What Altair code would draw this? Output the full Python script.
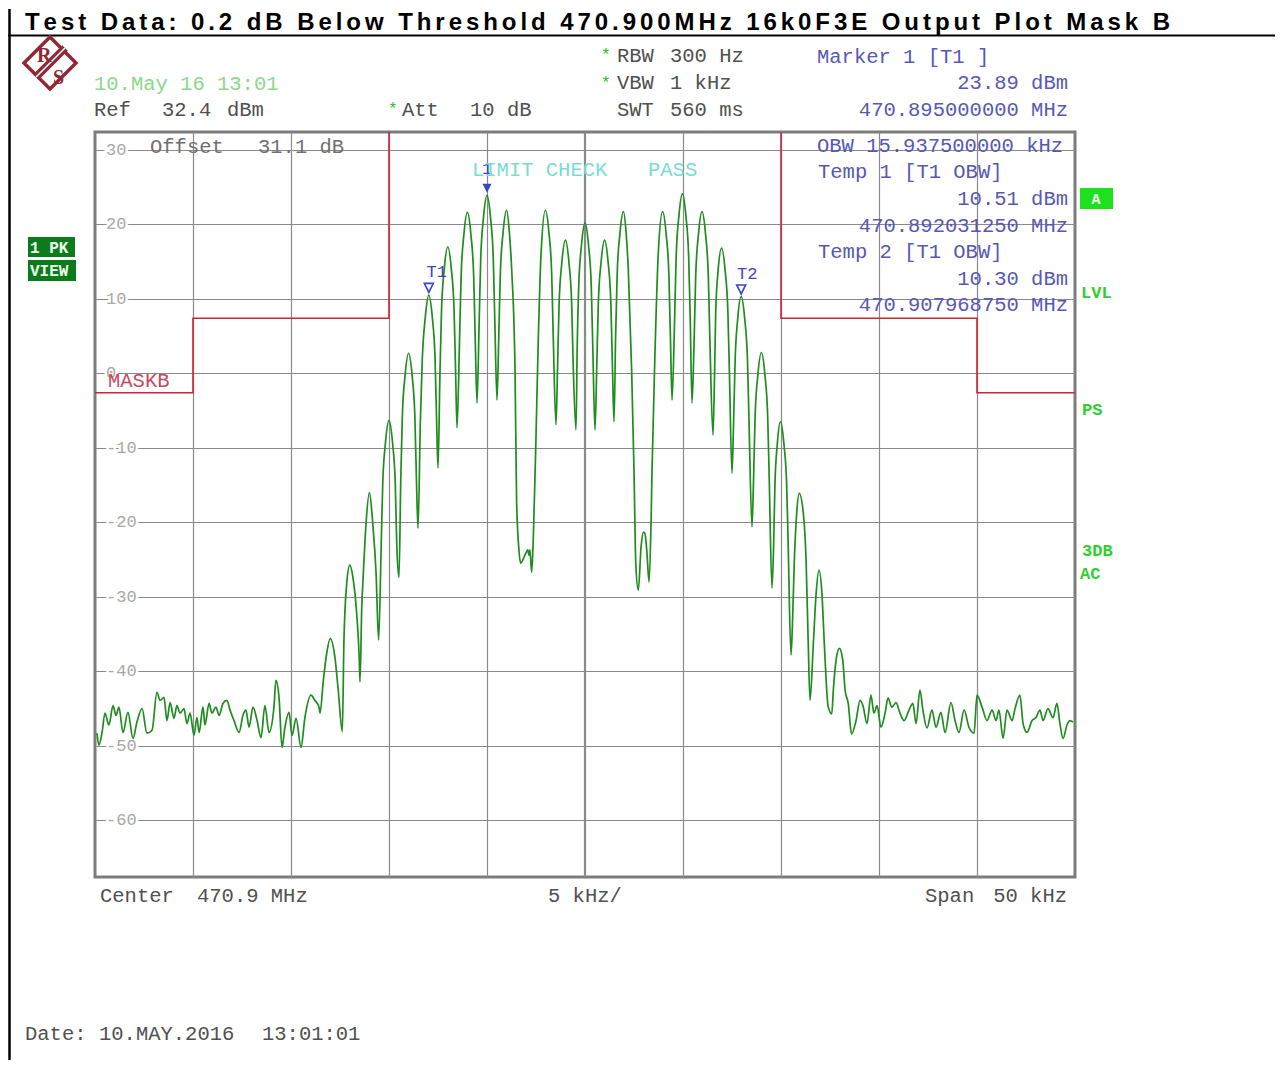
import altair as alt
import pandas as pd

# ---------------- data ----------------
TITLE = "Test Data: 0.2 dB Below Threshold 470.900MHz 16k0F3E Output Plot Mask B"

# frequency offset from 470.9 MHz (kHz), level (dBm)
LEFT_FLOOR = [
    (-24.90, -48.3), (-24.80, -49.9), (-24.64, -48.2), (-24.49, -45.6), (-24.29, -47.2),
    (-24.08, -44.6), (-23.93, -45.9), (-23.78, -44.8), (-23.57, -48.2), (-23.32, -45.5),
    (-23.06, -49.0), (-22.86, -46.8), (-22.60, -45.0), (-22.35, -48.3), (-22.09, -47.9),
    (-21.84, -42.8), (-21.68, -43.9), (-21.48, -43.5), (-21.33, -46.6), (-21.17, -44.2),
    (-20.97, -46.3), (-20.82, -44.6), (-20.66, -45.6), (-20.46, -45.0), (-20.31, -47.0),
    (-20.15, -45.6), (-19.95, -48.6), (-19.80, -46.2), (-19.69, -48.2), (-19.49, -44.8),
    (-19.39, -47.2), (-19.18, -44.3), (-19.03, -45.6), (-18.83, -44.8), (-18.67, -45.9),
    (-18.47, -44.3), (-18.27, -43.9), (-18.11, -45.2), (-17.91, -46.6), (-17.65, -48.2),
    (-17.45, -45.9), (-17.30, -45.2), (-17.14, -47.5), (-16.94, -44.8), (-16.73, -46.6),
    (-16.53, -48.9), (-16.33, -44.6), (-16.12, -48.2), (-15.87, -44.8), (-15.77, -41.2),
    (-15.61, -43.5), (-15.46, -50.2), (-15.31, -47.5), (-15.10, -45.5), (-14.95, -48.6),
    (-14.74, -46.3), (-14.49, -50.2), (-14.29, -46.2), (-13.98, -43.2), (-13.78, -43.9),
    (-13.57, -44.8),
]

SIGNAL = [
    # -13 kHz
    (-13.52, -45.6), (-13.35, -41.2), (-13.18, -37.6), (-13.00, -35.6), (-12.76, -38.1),
    (-12.59, -42.5), (-12.38, -48.1),
    # -12
    (-12.30, -36.0), (-12.16, -28.3), (-12.00, -25.75), (-11.82, -27.8), (-11.65, -32.2),
    (-11.52, -38.1), (-11.48, -41.4),
    # -11
    (-11.39, -31.4), (-11.31, -26.9), (-11.17, -20.1), (-11.00, -16.0), (-10.83, -20.1),
    (-10.66, -26.8), (-10.53, -35.8),
    # -10
    (-10.40, -23.3), (-10.32, -14.8), (-10.18, -9.3), (-10.00, -6.3), (-9.82, -9.3),
    (-9.68, -14.8), (-9.60, -23.3), (-9.49, -27.4),
    # -9
    (-9.40, -14.3), (-9.32, -5.8), (-9.18, -0.3), (-9.00, 2.7), (-8.82, -0.3),
    (-8.68, -5.8), (-8.60, -14.3), (-8.52, -20.8),
    # -8 (T1)
    (-8.40, -6.5), (-8.30, 2.0), (-8.15, 7.5), (-7.97, 10.5), (-7.79, 7.5),
    (-7.65, 2.0), (-7.57, -6.5), (-7.50, -12.7),
    # -7
    (-7.40, 0.0), (-7.32, 8.5), (-7.18, 14.0), (-7.00, 17.0), (-6.82, 14.0),
    (-6.68, 8.5), (-6.60, 0.0), (-6.53, -7.3),
    # -6
    (-6.40, 4.6), (-6.32, 13.1), (-6.18, 18.6), (-6.00, 21.6), (-5.82, 18.6),
    (-5.68, 13.1), (-5.60, 4.6), (-5.51, -4.0),
    # -5 (marker 1)
    (-5.40, 6.9), (-5.32, 15.4), (-5.18, 20.9), (-5.00, 23.9), (-4.82, 20.9),
    (-4.68, 15.4), (-4.60, 6.9), (-4.49, -3.6),
    # -4
    (-4.40, 4.9), (-4.32, 13.4), (-4.18, 18.9), (-4.00, 21.9), (-3.86, 19.0),
    (-3.74, 13.9), (-3.57, 0.4), (-3.49, -17.0),
    # carrier null near -3
    (-3.37, -23.7), (-3.28, -25.5), (-3.15, -24.9), (-3.03, -24.2), (-2.92, -23.7),
    (-2.86, -24.4), (-2.81, -23.7), (-2.72, -26.7), (-2.63, -21.5), (-2.50, -8.5),
    (-2.38, 4.9), (-2.24, 16.2),
    # -2
    (-2.02, 21.9), (-1.84, 18.9), (-1.70, 13.4), (-1.62, 4.9), (-1.48, -6.9),
    # -1
    (-1.40, 0.9), (-1.32, 9.4), (-1.18, 14.9), (-1.00, 17.9), (-0.82, 14.9),
    (-0.68, 9.4), (-0.60, 0.9), (-0.46, -7.6),
    # 0
    (-0.40, 3.2), (-0.32, 11.7), (-0.18, 17.2), (0.00, 20.2), (0.18, 17.2),
    (0.32, 11.7), (0.40, 3.2), (0.51, -7.6),
    # 1
    (0.60, 0.9), (0.68, 9.4), (0.82, 14.9), (1.00, 17.9), (1.18, 14.9),
    (1.32, 9.4), (1.40, 0.9), (1.48, -6.5),
    # 2
    (1.56, 4.7), (1.64, 13.2), (1.78, 18.7), (1.96, 21.7), (2.10, 18.8),
    (2.21, 13.9), (2.38, 0.4), (2.50, -13.0),
    # carrier null near +3
    (2.59, -25.5), (2.72, -29.1), (2.86, -23.3), (2.98, -21.3), (3.06, -21.5),
    (3.15, -23.7), (3.27, -28.0), (3.37, -20.0), (3.42, -13.0), (3.57, 2.7),
    (3.74, 16.2),
    # 4
    (3.96, 21.7), (4.14, 18.7), (4.28, 13.2), (4.36, 4.7), (4.44, -3.6),
    # 5
    (4.57, 7.1), (4.65, 15.6), (4.79, 21.1), (4.97, 24.1), (5.15, 21.1),
    (5.29, 15.6), (5.37, 7.1), (5.46, -4.0),
    # 6
    (5.57, 4.7), (5.65, 13.2), (5.79, 18.7), (5.97, 21.7), (6.15, 18.7),
    (6.29, 13.2), (6.37, 4.7), (6.53, -8.3),
    # 7
    (6.61, -0.2), (6.67, 8.3), (6.79, 13.8), (6.97, 16.8), (7.15, 13.8),
    (7.29, 8.3), (7.37, -0.2), (7.50, -13.4),
    # 8 (T2)
    (7.58, -6.7), (7.66, 1.8), (7.79, 7.3), (7.97, 10.3), (8.15, 7.3),
    (8.29, 1.8), (8.37, -6.7), (8.52, -20.6),
    # 9
    (8.60, -14.2), (8.68, -5.7), (8.82, -0.2), (9.00, 2.8), (9.18, -0.2),
    (9.32, -5.7), (9.40, -14.2), (9.54, -28.8),
    # 10
    (9.62, -23.5), (9.69, -15.0), (9.81, -9.5), (9.97, -6.5), (10.15, -9.5),
    (10.29, -15.0), (10.37, -23.5), (10.51, -37.8),
    # 11
    (10.58, -34.0), (10.68, -25.1), (10.80, -18.8), (10.93, -16.1), (11.14, -18.8),
    (11.28, -25.1), (11.39, -36.3), (11.48, -43.9),
    # 12
    (11.65, -36.3), (11.79, -29.6), (11.94, -26.4), (12.09, -29.6), (12.21, -36.3),
    (12.41, -44.8), (12.59, -45.7),
    # 13
    (12.67, -42.5), (12.81, -38.5), (12.98, -36.9), (13.15, -38.5), (13.27, -42.5),
    (13.43, -44.3), (13.60, -48.4),
]

RIGHT_FLOOR = [
    (13.83, -46.6), (14.03, -43.9), (14.18, -44.6), (14.39, -47.0), (14.59, -43.2),
    (14.74, -45.6), (14.90, -44.6), (15.10, -47.5), (15.31, -45.6), (15.46, -43.6),
    (15.66, -44.8), (15.87, -44.2), (16.07, -45.6), (16.28, -46.6), (16.53, -45.2),
    (16.73, -44.3), (16.89, -47.0), (17.09, -42.5), (17.24, -45.2), (17.45, -47.6),
    (17.70, -45.2), (17.91, -47.5), (18.16, -45.5), (18.37, -48.2), (18.67, -44.2),
    (18.88, -46.6), (19.08, -48.2), (19.34, -45.2), (19.59, -47.5), (19.85, -48.3),
    (20.00, -43.2), (20.26, -44.8), (20.51, -46.6), (20.77, -45.2), (20.97, -46.6),
    (21.12, -45.2), (21.33, -49.0), (21.53, -45.2), (21.79, -46.6), (21.94, -45.0),
    (22.19, -43.2), (22.35, -47.0), (22.55, -48.2), (22.81, -46.6), (23.01, -46.2),
    (23.21, -45.2), (23.37, -46.6), (23.62, -45.0), (23.88, -46.2), (24.08, -44.3),
    (24.23, -47.0), (24.39, -49.0), (24.59, -47.2), (24.74, -46.6), (24.90, -46.8),
]

MASK_KHZ = [-25, -20, -20, -10, -10, 10, 10, 20, 20, 25]
MASK_DBM = [-2.6, -2.6, 7.4, 7.4, 45, 45, 7.4, 7.4, -2.6, -2.6]

MARKER_LABELS = ["1", "T1", "T2"]
MARKER_KHZ = [-5.0, -7.96875, 7.96875]
MARKER_DBM = [23.89, 10.51, 10.30]

Y_TICKS = [30, 20, 10, 0, -10, -20, -30, -40, -50, -60]
X_GRID = [-20, -15, -10, -5, 5, 10, 15, 20]
X_CENTER = [0]
REF_LEVEL = 32.4
BOTTOM_LEVEL = -67.6
HALF_SPAN = 25

# ---------------- styling / layout ----------------
OX, OY = 95, 132            # page position of plot-area origin
W, H = 980, 745
MONO = "Liberation Mono"
SANS = "Liberation Sans"
GRID = "#8a8a8a"
GREEN = "#1e8c1e"
BLUE_TXT = "#5658b8"
GRAY_TXT = "#505050"
MARK_BLUE = "#3a44cc"
RS_RED = "#8e2a36"

xs = alt.Scale(domain=[-HALF_SPAN, HALF_SPAN], nice=False, zero=False)
ys = alt.Scale(domain=[BOTTOM_LEVEL, REF_LEVEL], nice=False, zero=False)
X_AXIS = alt.Axis(values=X_GRID, grid=True, gridColor=GRID, gridWidth=1.2,
                  labels=False, ticks=False, domain=False, title=None)
Y_AXIS = alt.Axis(values=Y_TICKS, grid=True, gridColor=GRID, gridWidth=1.2,
                  labels=False, ticks=False, domain=False, title=None)


def XE(field):
    return alt.X(field, type="quantitative", scale=xs, axis=X_AXIS)


def YE(field):
    return alt.Y(field, type="quantitative", scale=ys, axis=Y_AXIS)


def one():
    return pd.DataFrame({"a": [0]})


def T(s, x, y, color, size=20.5, font=MONO, weight="normal", align="left"):
    return alt.Chart(pd.DataFrame({"t": [s]})).mark_text(
        font=font, fontSize=size, fontWeight=weight, color=color,
        align=align, baseline="alphabetic"
    ).encode(text="t:N", x=alt.value(x - OX), y=alt.value(y - OY))


def RECT(x1, x2, y1, y2, color):
    return alt.Chart(one()).mark_rect(color=color).encode(
        x=alt.value(x1 - OX), x2=alt.value(x2 - OX),
        y=alt.value(y1 - OY), y2=alt.value(y2 - OY))


def LINE(x1, y1, x2, y2, color, w):
    return alt.Chart(one()).mark_rule(color=color, strokeWidth=w).encode(
        x=alt.value(x1 - OX), x2=alt.value(x2 - OX),
        y=alt.value(y1 - OY), y2=alt.value(y2 - OY))


layers = []

# centre grid line (slightly heavier)
layers.append(
    alt.Chart(pd.DataFrame({"khz": X_CENTER})).mark_rule(color=GRID, strokeWidth=2.2)
    .encode(x=XE("khz"))
)

# y labels with knock-out
ydf = pd.DataFrame({"v": Y_TICKS, "lab": [str(v) for v in Y_TICKS]})
layers.append(
    alt.Chart(ydf).mark_text(font=MONO, fontSize=17, align="left", baseline="middle",
                             color="white", stroke="white", strokeWidth=5)
    .encode(text="lab:N", y=YE("v"), x=alt.value(106 - OX))
)
layers.append(
    alt.Chart(ydf).mark_text(font=MONO, fontSize=17, align="left", baseline="middle",
                             color="#a8a8a8")
    .encode(text="lab:N", y=YE("v"), x=alt.value(106 - OX))
)

# limit mask
mdf = pd.DataFrame({"khz": MASK_KHZ, "dbm": MASK_DBM, "i": range(len(MASK_KHZ))})
layers.append(
    alt.Chart(mdf).mark_line(color="#d02435", strokeWidth=1.6, clip=True)
    .encode(x=XE("khz"), y=YE("dbm"), order="i:Q")
)

# trace
pts = LEFT_FLOOR + SIGNAL + RIGHT_FLOOR
tdf = pd.DataFrame(pts, columns=["khz", "dbm"])
tdf["i"] = range(len(tdf))
layers.append(
    alt.Chart(tdf).mark_line(color=GREEN, strokeWidth=1.7, interpolate="monotone", clip=True)
    .encode(x=XE("khz"), y=YE("dbm"), order="i:Q")
)

# markers
kdf = pd.DataFrame({"name": MARKER_LABELS, "khz": MARKER_KHZ, "dbm": MARKER_DBM})
TRI = "M-1,-2.6L1,-2.6L0,-0.6Z"
layers.append(
    alt.Chart(kdf).transform_filter(alt.datum.name == "1")
    .mark_point(shape=TRI, size=81, filled=True, color=MARK_BLUE, opacity=1)
    .encode(x=XE("khz"), y=YE("dbm"))
)
layers.append(
    alt.Chart(kdf).transform_filter(alt.datum.name != "1")
    .mark_point(shape=TRI, size=81, filled=False, color=MARK_BLUE, strokeWidth=1.6, opacity=1)
    .encode(x=XE("khz"), y=YE("dbm"))
)
for nm, dx, dy in [("1", 0, -21), ("T1", 8, -18), ("T2", 6, -18)]:
    layers.append(
        alt.Chart(kdf).transform_filter(alt.datum.name == nm)
        .mark_text(font=MONO, fontSize=17, color=MARK_BLUE, align="center",
                   baseline="alphabetic", dx=dx, dy=dy)
        .encode(x=XE("khz"), y=YE("dbm"), text="name:N")
    )

# ---------------- annotations ----------------
# frame of the printout
layers.append(LINE(9.5, 9, 9.5, 1062, "black", 2.5))
layers.append(LINE(8, 35.5, 1277, 35.5, "black", 2))

# title, letter-spaced like the original
ADV = {'T': 611, 'e': 556, 's': 556, 't': 333, ' ': 278, 'D': 722, 'a': 556, ':': 333,
       '0': 556, '.': 278, '2': 556, 'd': 611, 'B': 722, 'l': 278, 'o': 611, 'w': 778,
       'h': 611, 'r': 389, '4': 556, '7': 556, '9': 556, 'M': 833, 'H': 722, 'z': 500,
       '1': 556, '6': 556, 'k': 556, 'F': 611, '3': 556, 'E': 667, 'O': 778, 'u': 611,
       'p': 611, 'P': 667, 'm': 889}
TSIZE = 24
tx0, tx1 = 25, 1170
natural = sum(ADV[c] for c in TITLE[:-1]) * TSIZE / 1000
ls = (tx1 - tx0 - natural - ADV[TITLE[-1]] * TSIZE / 1000) / (len(TITLE) - 1)
cx = tx0
for ch in TITLE:
    if ch != " ":
        layers.append(T(ch, cx, 30, "black", size=TSIZE, font=SANS, weight="bold"))
    cx += ADV[ch] * TSIZE / 1000 + ls

# R&S logo
layers.append(
    alt.Chart(one()).mark_point(shape="M0,-1L1,0L0,1L-1,0Z", size=2704, filled=False,
                                color=RS_RED, strokeWidth=3.5, opacity=1)
    .encode(x=alt.value(50 - OX), y=alt.value(63 - OY))
)
layers.append(LINE(36, 77, 65, 48, RS_RED, 8))
layers.append(LINE(36, 77, 65, 48, "white", 1.6))
layers.append(T("R", 37, 62, RS_RED, size=20, font="Liberation Serif", weight="bold"))
layers.append(T("S", 53, 84, RS_RED, size=20, font="Liberation Serif", weight="bold"))

# header texts
layers.append(T("10.May 16 13:01", 94, 90, "#8ad88a"))
layers.append(T("Ref", 94, 116, GRAY_TXT))
layers.append(T("32.4", 162, 116, GRAY_TXT))
layers.append(T("dBm", 227, 116, GRAY_TXT))
layers.append(T("*", 388, 114, "#22c022", size=16))
layers.append(T("Att", 402, 116, GRAY_TXT))
layers.append(T("10 dB", 470, 116, GRAY_TXT))
layers.append(T("*", 601, 60, "#22c022", size=16))
layers.append(T("RBW", 617, 62, GRAY_TXT))
layers.append(T("300 Hz", 670, 62, GRAY_TXT))
layers.append(T("*", 601, 88, "#22c022", size=16))
layers.append(T("VBW", 617, 89, GRAY_TXT))
layers.append(T("1 kHz", 670, 89, GRAY_TXT))
layers.append(T("SWT", 617, 116, GRAY_TXT))
layers.append(T("560 ms", 670, 116, GRAY_TXT))
layers.append(T("Marker 1 [T1 ]", 817, 63, BLUE_TXT))
layers.append(T("23.89 dBm", 1068, 89, BLUE_TXT, align="right"))
layers.append(T("470.895000000 MHz", 1068, 116, BLUE_TXT, align="right"))

# in-plot marker table
layers.append(T("OBW 15.937500000 kHz", 817, 152, BLUE_TXT))
layers.append(T("Temp 1 [T1 OBW]", 818, 178, BLUE_TXT))
layers.append(T("10.51 dBm", 1068, 205, BLUE_TXT, align="right"))
layers.append(T("470.892031250 MHz", 1068, 232, BLUE_TXT, align="right"))
layers.append(T("Temp 2 [T1 OBW]", 818, 258, BLUE_TXT))
layers.append(T("10.30 dBm", 1068, 285, BLUE_TXT, align="right"))
layers.append(T("470.907968750 MHz", 1068, 311, BLUE_TXT, align="right"))
layers.append(T("Offset", 150, 153, "#707070"))
layers.append(T("31.1 dB", 258, 153, "#707070"))
layers.append(T("LIMIT CHECK", 472, 176, "#78ddd0"))
layers.append(T("PASS", 648, 176, "#78ddd0"))
layers.append(T("MASKB", 108, 387, "#c44a60"))

# left status boxes
layers.append(RECT(28, 75, 237, 257, "#0e7a1e"))
layers.append(RECT(28, 76, 260, 281, "#0e7a1e"))
layers.append(T("1 PK", 30, 253, "#eaffea", size=16, weight="bold"))
layers.append(T("VIEW", 30, 276, "#eaffea", size=16, weight="bold"))

# right status labels
layers.append(RECT(1080, 1113, 188, 209, "#1fe01f"))
layers.append(T("A", 1096, 204, "#f0fff0", size=15, weight="bold", align="center"))
layers.append(T("LVL", 1081, 298, "#2fcf2f", size=17, weight="bold"))
layers.append(T("PS", 1082, 415, "#2fcf2f", size=17, weight="bold"))
layers.append(T("3DB", 1082, 556, "#2fcf2f", size=17, weight="bold"))
layers.append(T("AC", 1080, 579, "#2fcf2f", size=17, weight="bold"))

# bottom texts
layers.append(T("Center", 100, 902, GRAY_TXT))
layers.append(T("470.9 MHz", 197, 902, GRAY_TXT))
layers.append(T("5 kHz/", 548, 902, GRAY_TXT))
layers.append(T("Span", 925, 902, GRAY_TXT))
layers.append(T("50 kHz", 1067, 902, GRAY_TXT, align="right"))
layers.append(T("Date:", 25, 1040, GRAY_TXT))
layers.append(T("10.MAY.2016", 99, 1040, GRAY_TXT))
layers.append(T("13:01:01", 262, 1040, GRAY_TXT))

chart = alt.layer(*layers).properties(
    width=W, height=H,
    autosize=alt.AutoSizeParams(type="none"),
    padding={"left": OX - 8, "top": OY - 8, "right": 200, "bottom": 183},
    background="white",
).configure_view(stroke="#7c7c7c", strokeWidth=3)

chart.save("out.html", embed_options={"renderer": "svg", "actions": False})
